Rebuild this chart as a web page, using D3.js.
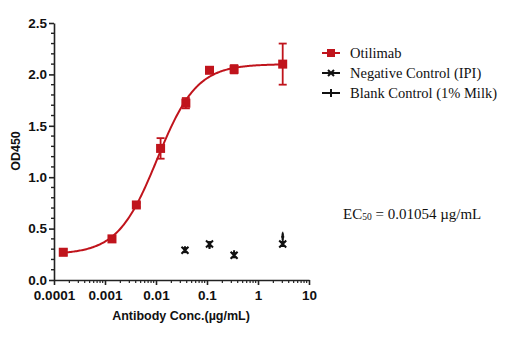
<!DOCTYPE html>
<html><head><meta charset="utf-8">
<script src="https://cdn.jsdelivr.net/npm/d3@7"></script>
<style>body{margin:0;background:#fff}svg{display:block}</style>
</head><body><svg id="c" width="532" height="340"></svg>
<script>
const concX = [0.000152, 0.00137, 0.00412, 0.0123, 0.0385, 0.112, 0.340, 3.05];
const otilimabY = [0.27, 0.40, 0.73, 1.28, 1.72, 2.04, 2.05, 2.10];
const otilimabErr = [0.03, 0.01, 0.02, 0.10, 0.05, 0.02, 0.04, 0.20];
const controlX = [0.037, 0.112, 0.340, 3.05];
const negativeY = [0.29, 0.35, 0.24, 0.35];
const negativeErr = [0.02, 0.02, 0.02, 0.02];
const blankY = [0.30, 0.33, 0.26, 0.42];
const blankErr = [0.01, 0.02, 0.01, 0.04];
const xTicks = [0.0001, 0.001, 0.01, 0.1, 1, 10];
const xTickLabels = ["0.0001", "0.001", "0.01", "0.1", "1", "10"];
const yTicks = [0, 0.5, 1.0, 1.5, 2.0, 2.5];
const legendLabels = ["Otilimab", "Negative Control (IPI)", "Blank Control (1% Milk)"];
// 4PL fit parameters
const fitBottom = 0.25, fitTop = 2.10, fitEC50 = 0.01054, fitHill = 1.12;

const RED = "#c0141c";
const svg = d3.select("#c");
const x = d3.scaleLog().domain([0.0001, 10]).range([54, 309]);
const y = d3.scaleLinear().domain([0, 2.5]).range([280, 23]);

// Y axis
const yAxis = d3.axisLeft(y).tickValues(yTicks).tickFormat(d3.format(".1f")).tickSize(5).tickSizeOuter(0);
const gy = svg.append("g").attr("transform", "translate(54,0)").call(yAxis);
gy.selectAll(".tick text").attr("font-family", "Liberation Sans, Arial").attr("font-weight", "bold").attr("font-size", 13.5).attr("fill", "#111").attr("x", -7);
gy.selectAll("line, path").attr("stroke", "#222").attr("stroke-width", 1.6);
const yMinor = d3.range(0, 2.51, 0.1).filter(v => Math.abs(v * 2 - Math.round(v * 2)) > 0.01);
gy.selectAll(".minor").data(yMinor).enter().append("line")
  .attr("x1", -3).attr("x2", 0).attr("y1", d => y(d)).attr("y2", d => y(d)).attr("stroke", "#222").attr("stroke-width", 1.4);

// X axis
const xAxis = d3.axisBottom(x).tickValues(xTicks).tickFormat((d, i) => xTickLabels[i]).tickSize(5).tickSizeOuter(0);
const gx = svg.append("g").attr("transform", "translate(0,280)").call(xAxis);
gx.selectAll(".tick text").attr("font-family", "Liberation Sans, Arial").attr("font-weight", "bold").attr("font-size", 13.5).attr("fill", "#111").attr("y", 10);
gx.selectAll("line, path").attr("stroke", "#222").attr("stroke-width", 1.6);
const xMinor = [];
[0.0001, 0.001, 0.01, 0.1, 1].forEach(b => { for (let k = 2; k <= 9; k++) xMinor.push(b * k); });
gx.selectAll(".minor").data(xMinor).enter().append("line")
  .attr("x1", d => x(d)).attr("x2", d => x(d)).attr("y1", 0).attr("y2", 3).attr("stroke", "#222").attr("stroke-width", 1.2);

// Axis titles
svg.append("text").attr("x", 181).attr("y", 320).attr("text-anchor", "middle")
  .attr("font-family", "Liberation Sans, Arial").attr("font-weight", "bold").attr("font-size", 12.5).attr("fill", "#111")
  .text("Antibody Conc.(µg/mL)");
svg.append("text").attr("transform", "translate(20,151) rotate(-90)").attr("text-anchor", "middle")
  .attr("font-family", "Liberation Sans, Arial").attr("font-weight", "bold").attr("font-size", 12.5).attr("fill", "#111")
  .text("OD450");

// Fit curve
const fitF = c => fitBottom + (fitTop - fitBottom) / (1 + Math.pow(fitEC50 / c, fitHill));
const lx0 = Math.log10(concX[0]), lx1 = Math.log10(concX[concX.length - 1]);
const curvePts = d3.range(0, 201).map(i => { const c = Math.pow(10, lx0 + (lx1 - lx0) * i / 200); return [x(c), y(fitF(c))]; });
svg.append("path").attr("d", d3.line()(curvePts)).attr("fill", "none").attr("stroke", RED).attr("stroke-width", 2);

// Error bars helper
function errBars(xs, ys, es, color, cap) {
  xs.forEach((c, i) => {
    const cx = x(c), top = y(ys[i] + es[i]), bot = y(ys[i] - es[i]);
    const g = svg.append("g").attr("stroke", color).attr("stroke-width", 1.8);
    g.append("line").attr("x1", cx).attr("x2", cx).attr("y1", top).attr("y2", bot);
    g.append("line").attr("x1", cx - cap).attr("x2", cx + cap).attr("y1", top).attr("y2", top);
    g.append("line").attr("x1", cx - cap).attr("x2", cx + cap).attr("y1", bot).attr("y2", bot);
  });
}
errBars(concX, otilimabY, otilimabErr, RED, 4);
svg.selectAll(".oti").data(concX).enter().append("rect")
  .attr("x", d => x(d) - 4.5).attr("y", (d, i) => y(otilimabY[i]) - 4.5).attr("width", 9).attr("height", 9).attr("fill", RED);

// Negative control
errBars(controlX, negativeY, negativeErr, "#111", 2.5);
controlX.forEach((c, i) => {
  const cx = x(c), cy = y(negativeY[i]), s = 3.5;
  svg.append("path").attr("d", `M${cx - s},${cy - s}L${cx + s},${cy + s}M${cx - s},${cy + s}L${cx + s},${cy - s}`)
    .attr("stroke", "#111").attr("stroke-width", 2);
});
// Blank control
errBars(controlX, blankY, blankErr, "#111", 0.5);
controlX.forEach((c, i) => {
  const cx = x(c), cy = y(blankY[i]), s = 3;
  svg.append("path").attr("d", `M${cx},${cy - s}L${cx},${cy + s}M${cx - 1.5},${cy}L${cx + 1.5},${cy}`)
    .attr("stroke", "#111").attr("stroke-width", 2);
});

// Legend
const legY = [53, 73, 93];
legendLabels.forEach((t, i) => {
  const cy = legY[i];
  const col = i === 0 ? RED : "#111";
  svg.append("line").attr("x1", 322).attr("x2", 340).attr("y1", cy).attr("y2", cy).attr("stroke", col).attr("stroke-width", 2);
  if (i === 0) svg.append("rect").attr("x", 327).attr("y", cy - 4).attr("width", 8).attr("height", 8).attr("fill", RED);
  if (i === 1) svg.append("path").attr("d", `M${328},${cy - 3}L${334},${cy + 3}M${328},${cy + 3}L${334},${cy - 3}`).attr("stroke", col).attr("stroke-width", 2);
  if (i === 2) svg.append("line").attr("x1", 331).attr("x2", 331).attr("y1", cy - 4).attr("y2", cy + 4).attr("stroke", col).attr("stroke-width", 2);
  svg.append("text").attr("x", 350).attr("y", cy + 5).attr("font-family", "Liberation Serif, Times New Roman").attr("font-size", 14.5).attr("fill", "#111").text(t);
});

// EC50 annotation
const ec = svg.append("text").attr("x", 343).attr("y", 219).attr("font-family", "Liberation Serif, Times New Roman").attr("font-size", 15).attr("fill", "#111");
ec.append("tspan").text("EC");
ec.append("tspan").attr("font-size", 9.5).attr("dy", 1).text("50");
ec.append("tspan").attr("dy", -1).text(" = " + fitEC50 + " µg/mL");
</script></body></html>
